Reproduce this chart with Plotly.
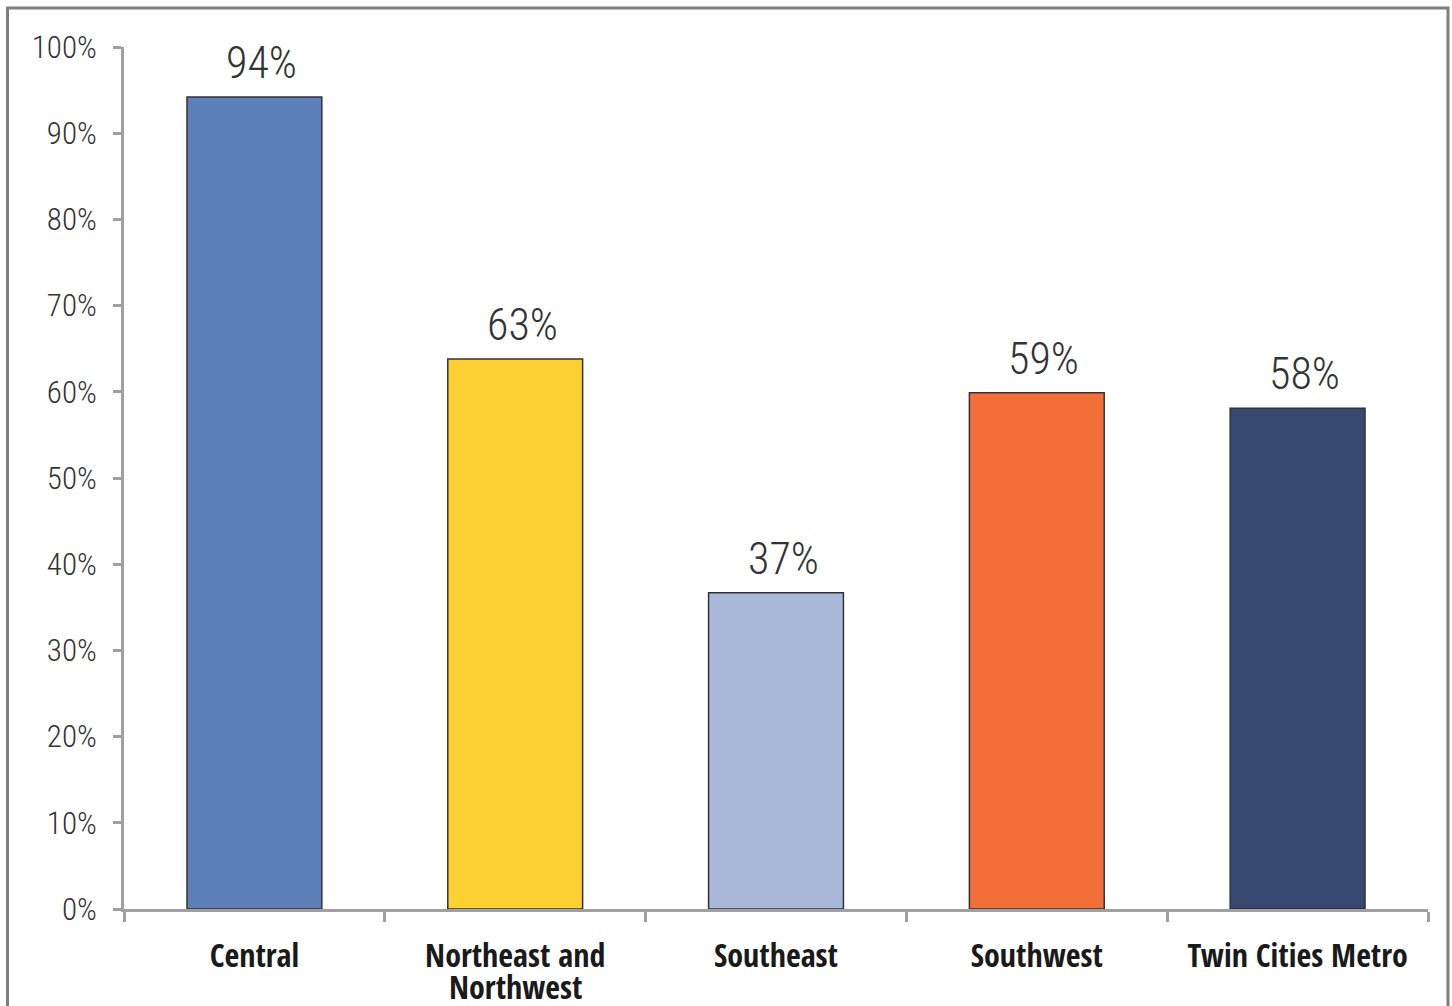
import plotly.graph_objects as go

categories = ["Central", "Northeast and Northwest", "Southeast", "Southwest", "Twin Cities Metro"]
category_lines = [["Central"], ["Northeast and", "Northwest"], ["Southeast"], ["Southwest"], ["Twin Cities Metro"]]
values = [94.2, 63.8, 36.7, 59.9, 58.1]
value_labels = ["94%", "63%", "37%", "59%", "58%"]
colors = ["#5b7fb6", "#fdd034", "#aab9da", "#f26f38", "#364870"]
y_ticks = [0, 10, 20, 30, 40, 50, 60, 70, 80, 90, 100]
y_tick_labels = [f"{v}%" for v in y_ticks]

W, H = 1452, 1006
L, R, T, B = 124, 24, 47, 97
pw, ph = W - L - R, H - T - B

light = "Roboto Condensed, Open Sans Condensed, sans-serif"
bold = "Open Sans Condensed, Roboto Condensed, sans-serif"

fig = go.Figure(go.Bar(
    x=categories, y=values,
    marker=dict(color=colors, line=dict(color="#333333", width=1.5)),
    cliponaxis=False,
    width=0.517,
))

for cat, val, lab in zip(categories, values, value_labels):
    fig.add_annotation(x=cat, y=val, xref="x", yref="y", text=lab, showarrow=False,
                       xanchor="center", yanchor="bottom", xshift=7, yshift=6,
                       font=dict(family=light, size=44, color="#333333", weight=300))

# second lines of multi-line category labels
for cat, lines in zip(categories, category_lines):
    for k, line in enumerate(lines[1:], start=1):
        fig.add_annotation(x=cat, y=0, xref="x", yref="y", text=line, showarrow=False,
                           xanchor="center", yanchor="top", yshift=-55 - 31 * (k - 1),
                           borderpad=0,
                           font=dict(family=bold, size=32, color="#1a1a1a", weight="bold"))

def px_x(x):
    return (x - L) / pw

def px_y(y):
    return (H - B - y) / ph

fig.add_shape(type="rect", xref="paper", yref="paper",
              x0=px_x(7.5), x1=px_x(1448), y0=px_y(1020), y1=px_y(8),
              line=dict(color="#7f7f7f", width=3), fillcolor="rgba(0,0,0,0)", layer="below")

fig.update_layout(
    width=W, height=H,
    margin=dict(l=L, r=R, t=T, b=B, pad=0, autoexpand=False),
    paper_bgcolor="white", plot_bgcolor="white",
    showlegend=False,
    xaxis=dict(
        range=[-0.5, 4.5], showgrid=False, automargin=False, tickangle=0,
        showline=True, linecolor="#a0a0a0", linewidth=3,
        ticks="outside", tickson="boundaries", ticklen=10, tickwidth=3, tickcolor="#a0a0a0",
        tickvals=categories, ticktext=[lines[0] for lines in category_lines],
        tickfont=dict(family=bold, size=32, color="#1a1a1a", weight="bold"),
        ticklabelstandoff=17,
    ),
    yaxis=dict(
        range=[0, 100], showgrid=False, zeroline=False, automargin=False,
        showline=True, linecolor="#a0a0a0", linewidth=3,
        ticks="outside", ticklen=8, tickwidth=3, tickcolor="#a0a0a0",
        tickvals=y_ticks, ticktext=y_tick_labels,
        tickfont=dict(family=light, size=31, color="#333333", weight=300),
        ticklabelstandoff=10,
    ),
)

fig.write_html("out.html")
